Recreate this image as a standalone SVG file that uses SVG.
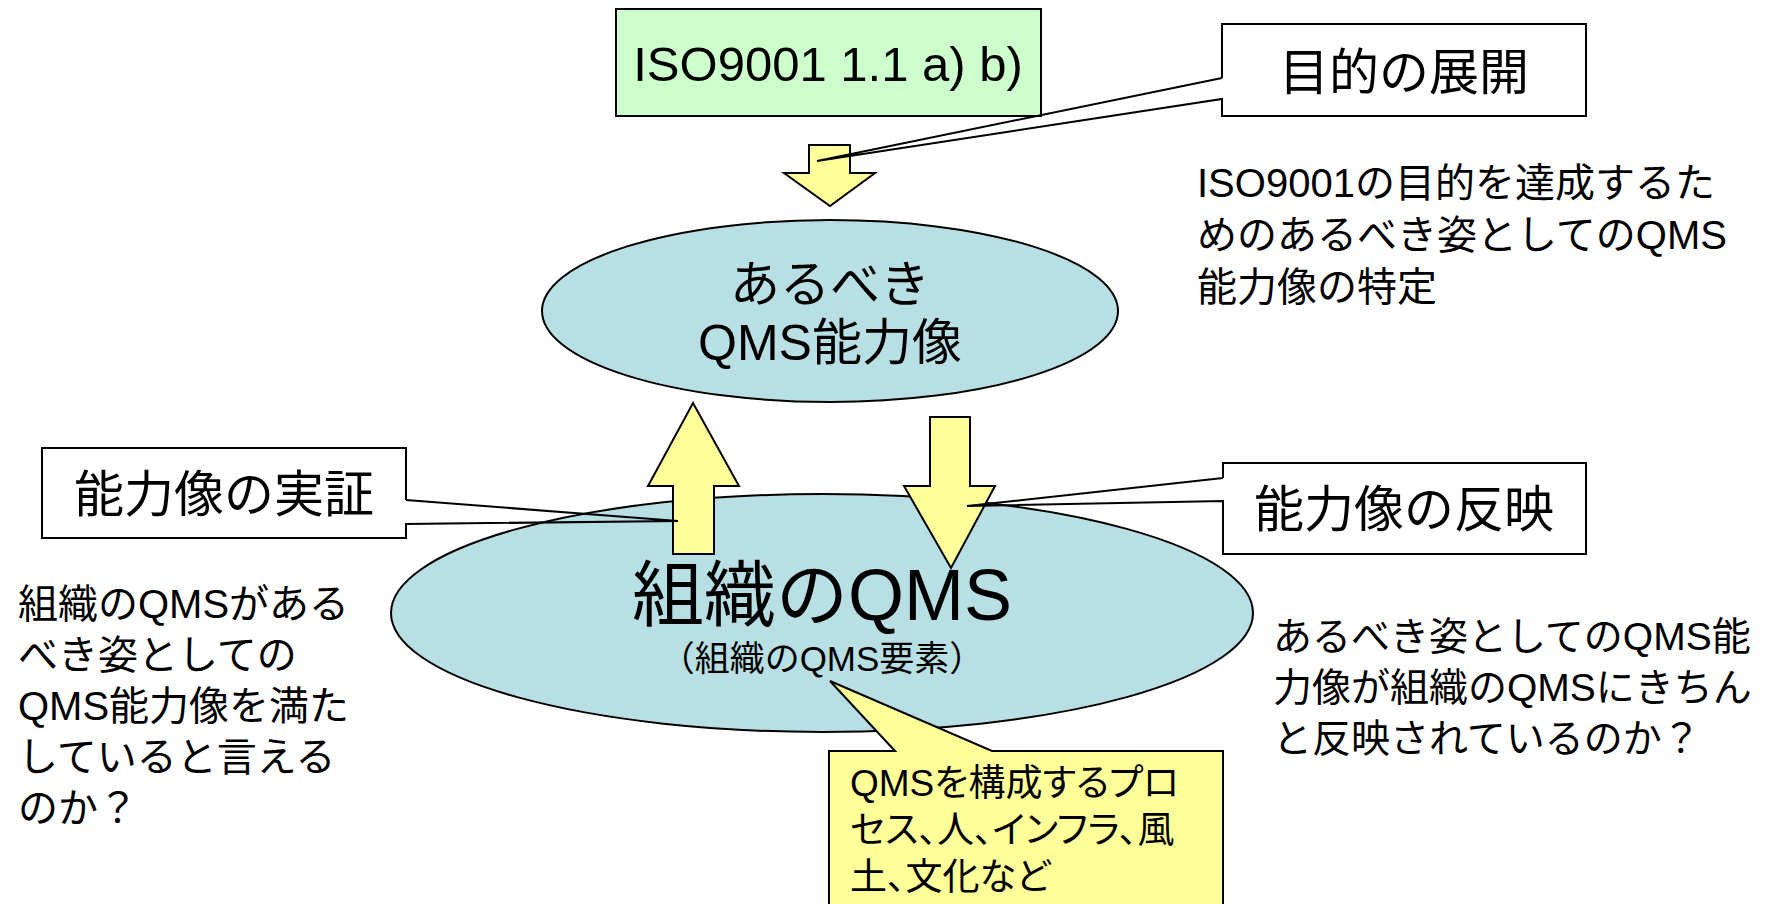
<svg xmlns="http://www.w3.org/2000/svg" width="1782" height="904" viewBox="0 0 1782 904">
<style>
  text { font-family: "Liberation Sans", "Noto Sans CJK JP", sans-serif; fill: #000; }
  .lbl { font-size: 50px; text-anchor: middle; }
  .body { font-size: 40px; }
  .yel { font-size: 37px; font-feature-settings: "palt"; }
  .ell { fill: #B8DFE3; stroke: #000; stroke-width: 2; }
  .arr { fill: #FFFF99; stroke: #000; stroke-width: 2; stroke-linejoin: miter; }
  .box { fill: #FFFFFF; stroke: none; }
  .ol { fill: none; stroke: #000; stroke-width: 2; }
</style>
<rect width="1782" height="904" fill="#FFFFFF"/>

<g id="iso-box">
  <rect x="616" y="9" width="425" height="107" fill="#CCFFCC" stroke="#000" stroke-width="2"/>
  <text x="828" y="81" style="font-size:49px;text-anchor:middle">ISO9001 1.1 a) b)</text>
</g>

<g id="org-qms">
  <ellipse class="ell" cx="822" cy="613" rx="431" ry="119"/>
  <text x="822" y="620" style="font-size:72px;text-anchor:middle">組織のQMS</text>
  <text x="822" y="671" style="font-size:35px;text-anchor:middle">（組織のQMS要素）</text>
</g>

<g id="ideal-qms">
  <ellipse class="ell" cx="830" cy="311" rx="288" ry="91"/>
  <text class="lbl" x="830" y="302">あるべき</text>
  <text class="lbl" x="830" y="360">QMS能力像</text>
</g>

<g id="connectors">
  <polygon id="arrow-top" class="arr" points="809,145 850,145 850,173 875,173 830,206 784,173 809,173"/>
  <polygon id="arrow-up" class="arr" points="693,403 739,486 714,486 714,554 673,554 673,486 648,486"/>
  <polygon id="arrow-down" class="arr" points="930,417 970,417 970,486 995,486 951,568 904,486 930,486"/>
</g>

<g id="callout-purpose">
  <rect class="box" x="1222" y="24" width="364" height="92"/>
  <path class="ol" d="M1222,78 V24 H1586 V116 H1222 V99 L817,161 L1222,78"/>
  <text class="lbl" x="1404" y="90">目的の展開</text>
</g>

<g id="callout-proof">
  <rect class="box" x="42" y="448" width="364" height="90"/>
  <path class="ol" d="M406,500 V448 H42 V538 H406 V524 L678,521 L406,500"/>
  <text class="lbl" x="224" y="512">能力像の実証</text>
</g>

<g id="callout-reflect">
  <rect class="box" x="1223" y="463" width="363" height="91"/>
  <path class="ol" d="M1223,478 V463 H1586 V554 H1223 V501 L967,506 L1223,478"/>
  <text class="lbl" x="1404" y="527">能力像の反映</text>
</g>

<g id="callout-elements">
  <path d="M895,751 L830,681 L992,751 H1223 V910 H829 V751 Z" fill="#FFFF99" stroke="#000" stroke-width="2"/>
  <text class="yel" x="850" y="796">QMSを構成するプロ</text>
  <text class="yel" x="850" y="843">セス、人、インフラ、風</text>
  <text class="yel" x="850" y="890">土、文化など</text>
</g>

<g id="note-purpose">
  <text class="body" x="1197" y="197">ISO9001の目的を達成するた</text>
  <text class="body" x="1197" y="249">めのあるべき姿としてのQMS</text>
  <text class="body" x="1197" y="301">能力像の特定</text>
</g>

<g id="note-proof">
  <text class="body" x="18" y="618">組織のQMSがある</text>
  <text class="body" x="18" y="669">べき姿としての</text>
  <text class="body" x="18" y="720">QMS能力像を満た</text>
  <text class="body" x="18" y="771">していると言える</text>
  <text class="body" x="18" y="822">のか？</text>
</g>

<g id="note-reflect">
  <text class="body" x="1273" y="650" style="font-size:39px">あるべき姿としてのQMS能</text>
  <text class="body" x="1273" y="701" style="font-size:39px">力像が組織のQMSにきちん</text>
  <text class="body" x="1273" y="752" style="font-size:39px">と反映されているのか？</text>
</g>
</svg>
